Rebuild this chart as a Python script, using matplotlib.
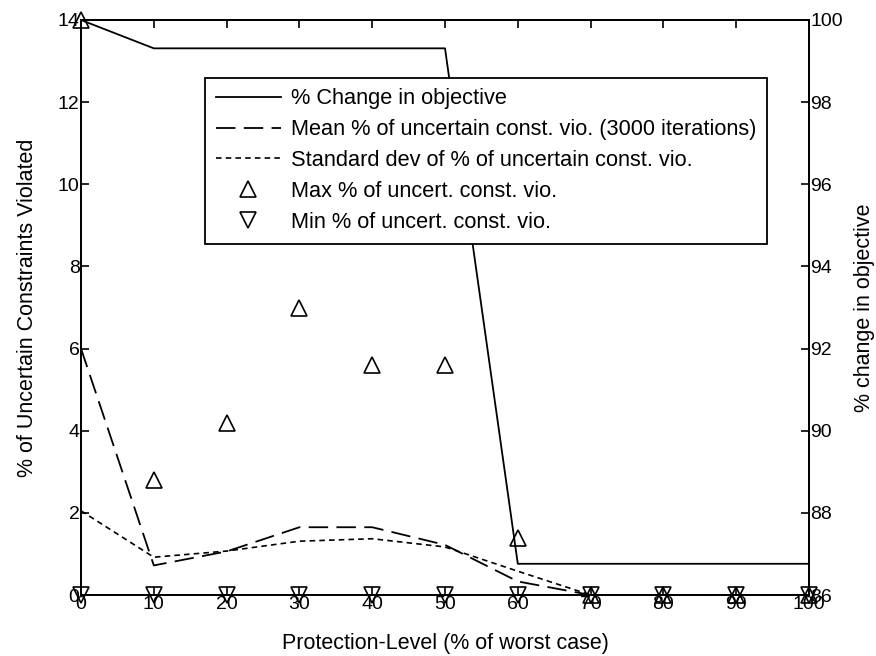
import numpy as np
import matplotlib.pyplot as plt

params = {
   'font.family': ['Liberation Sans', 'DejaVu Sans'],
   'font.size': 13,
   'axes.linewidth': 1.3,
   'lines.scale_dashes': False,
   'xtick.direction': 'in',
   'ytick.direction': 'in',
   }
plt.rcParams.update(params)

#%%

prot_level = [0, 10, 20, 30, 40, 50, 60, 70, 80, 90, 100]
obj_change = [100, 99.31, 99.31, 99.31, 99.31, 99.31, 86.76, 86.76, 86.76, 86.76, 86.76]
mean_vio = [6.0, 0.72, 1.06, 1.65, 1.65, 1.22, 0.33, 0, 0, 0, 0]
std_vio = [2.05, 0.92, 1.07, 1.31, 1.37, 1.17, 0.58, 0, 0, 0, 0]
max_vio = [14, 2.8, 4.2, 7.0, 5.6, 5.6, 1.4, 0, 0, 0, 0]
min_vio = [0, 0, 0, 0, 0, 0, 0, 0, 0, 0, 0]

#%%

fig = plt.figure(figsize=(8.76, 6.56), dpi=100)
ax = fig.add_axes([81/876, 1 - 595/656, 728/876, 575/656])
ax2 = ax.twinx()

l_mean, = ax.plot(prot_level, mean_vio, color='k', lw=1.3, ls=(0, (14, 6)))
l_std, = ax.plot(prot_level, std_vio, color='k', lw=1.2, ls=(0, (4, 3)))
l_max, = ax.plot(prot_level, max_vio, ls='none', marker='^', ms=11,
                 mfc='none', mec='k', mew=1.2, clip_on=False)
l_min, = ax.plot(prot_level, min_vio, ls='none', marker='v', ms=11,
                 mfc='none', mec='k', mew=1.2, clip_on=False)

l_obj, = ax2.plot(prot_level, obj_change, color='k', lw=1.3)

ax.set_xlim(0, 100)
ax.set_ylim(0, 14)
ax.set_xticks(np.arange(0, 101, 10))
ax.set_yticks(np.arange(0, 15, 2))
ax2.set_ylim(86, 100)
ax2.set_yticks(np.arange(86, 101, 2))

ax.tick_params(axis='x', top=True, length=6, width=1.2, pad=1, labelsize=14)
ax.tick_params(axis='y', right=False, length=6, width=1.2, pad=1, labelsize=14)
ax2.tick_params(axis='y', length=6, width=1.2, pad=1, labelsize=14)

ax.set_xlabel('Protection-Level (% of worst case)', fontsize=15.5, labelpad=14)
ax.set_ylabel('% of Uncertain Constraints Violated', fontsize=15.5, labelpad=14)
ax2.set_ylabel('% change in objective', fontsize=15.5, labelpad=8)

leg = ax2.legend([l_obj, l_mean, l_std, l_max, l_min],
                 ['% Change in objective',
                  'Mean % of uncertain const. vio. (3000 iterations)',
                  'Standard dev of % of uncertain const. vio.',
                  'Max % of uncert. const. vio.',
                  'Min % of uncert. const. vio.'],
                 loc='upper left', bbox_to_anchor=(0.17, 0.9), borderaxespad=0,
                 fontsize=15.7, handlelength=3.0, handletextpad=0.46,
                 labelspacing=0.45, borderpad=0.5, numpoints=1,
                 fancybox=False, framealpha=1, edgecolor='k')
leg.get_frame().set_linewidth(1.3)

plt.savefig('out.png', dpi=100)
